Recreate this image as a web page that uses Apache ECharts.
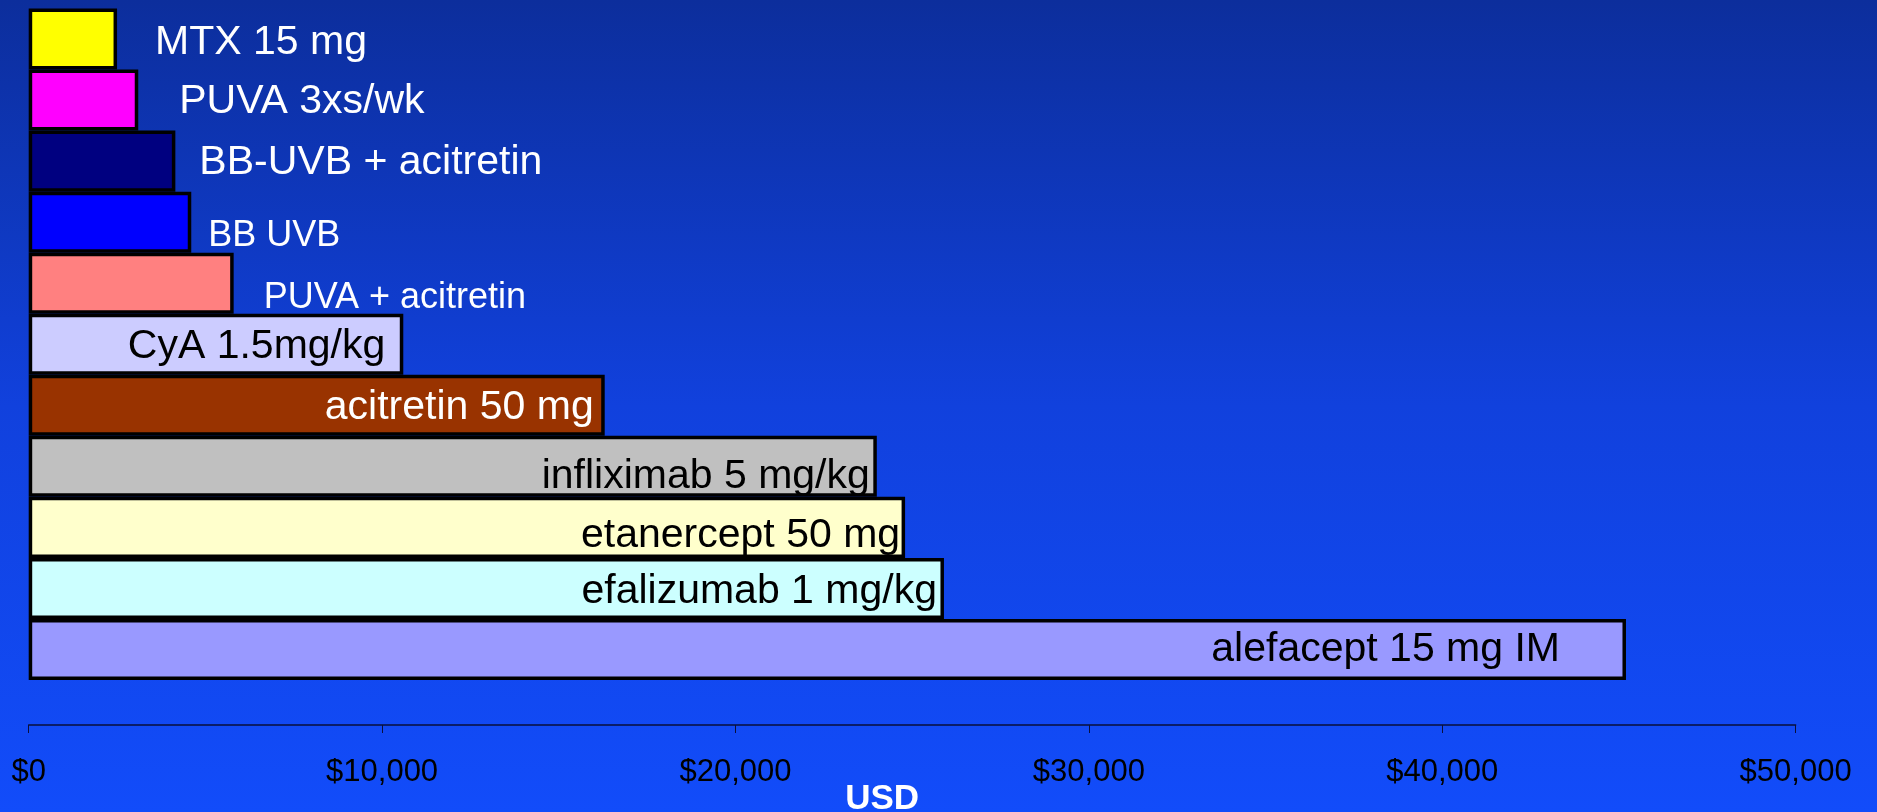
<!DOCTYPE html>
<html>
<head>
<meta charset="utf-8">
<script src="https://cdn.jsdelivr.net/npm/echarts@6/dist/echarts.min.js"></script>
<style>
html,body{margin:0;padding:0;}
#chart{width:1877px;height:812px;}
</style>
</head>
<body>
<div id="chart"></div>
<script>
// ---- data ----
var categories = ['MTX 15 mg', 'PUVA 3xs/wk', 'BB-UVB + acitretin', 'BB UVB', 'PUVA + acitretin',
  'CyA 1.5mg/kg', 'acitretin 50 mg', 'infliximab 5 mg/kg', 'etanercept 50 mg', 'efalizumab 1 mg/kg', 'alefacept 15 mg IM'];
var costs = [2500, 3100, 4150, 4600, 5800, 10600, 16300, 24000, 24800, 25900, 45200];
var axisMin = 0, axisMax = 50000, axisStep = 10000;
var axisTitle = 'USD';

// ---- styles ----
var barColors = ['#FFFF00', '#FF00FF', '#000080', '#0000FF', '#FF8080', '#CCCCFF', '#993300', '#C0C0C0', '#FFFFCC', '#CCFFFF', '#9999FF'];
var labelStyles = [
  {position: 'right', distance: 38, color: '#fff', size: 41, dy: 4},
  {position: 'right', distance: 41, color: '#fff', size: 41, dy: 2},
  {position: 'right', distance: 24, color: '#fff', size: 41, dy: 2},
  {position: 'right', distance: 17, color: '#fff', size: 36, dy: 14},
  {position: 'right', distance: 30, color: '#fff', size: 36, dy: 15},
  {position: 'insideRight', distance: 18, color: '#000', size: 41, dy: 2},
  {position: 'insideRight', distance: 11, color: '#fff', size: 41, dy: 2},
  {position: 'insideRight', distance: 7, color: '#000', size: 41, dy: 10},
  {position: 'insideRight', distance: 5, color: '#000', size: 41, dy: 8},
  {position: 'insideRight', distance: 7, color: '#000', size: 41, dy: 3},
  {position: 'insideRight', distance: 66, color: '#000', size: 41, dy: 0}
];

var font = '"Liberation Sans", Arial, sans-serif';
var chart = echarts.init(document.getElementById('chart'));
var seriesData = costs.map(function (v, i) {
  var ls = labelStyles[i];
  return {
    value: v,
    itemStyle: {color: barColors[i]},
    label: {
      show: true,
      position: ls.position,
      distance: ls.distance,
      offset: [0, ls.dy],
      color: ls.color,
      fontSize: ls.size,
      fontFamily: font,
      formatter: function (p) { return p.name; }
    }
  };
});

chart.setOption({
  backgroundColor: {
    type: 'linear', x: 0, y: 0, x2: 0, y2: 1,
    colorStops: [{offset: 0, color: '#0c2e9c'}, {offset: 0.5, color: '#1141dd'}, {offset: 1, color: '#124cfa'}]
  },
  animation: false,
  grid: {left: 28.7, right: 81.4, top: 8.5, bottom: 132, containLabel: false, outerBoundsMode: 'none'},
  xAxis: {
    type: 'value',
    min: axisMin, max: axisMax, interval: axisStep,
    offset: 45,
    name: axisTitle,
    nameLocation: 'middle',
    nameGap: 57,
    nameMoveOverlap: false,
    nameTextStyle: {color: '#fff', fontSize: 35, fontWeight: 'bold', fontFamily: font, padding: [0, 60, 0, 0]},
    axisLine: {show: true, lineStyle: {color: '#0a0f3a', width: 1.5}},
    axisTick: {show: true, length: 8, lineStyle: {color: '#0a0f3a', width: 1}},
    splitLine: {show: false},
    axisLabel: {
      color: '#000', fontSize: 31, fontFamily: font, margin: 32,
      formatter: function (v) { return '$' + v.toLocaleString('en-US'); }
    }
  },
  yAxis: {
    type: 'category',
    data: categories,
    inverse: true,
    show: false
  },
  series: [{
    type: 'bar',
    data: seriesData,
    barCategoryGap: 0,
    itemStyle: {borderColor: '#000', borderWidth: 3.5}
  }]
});
</script>
</body>
</html>
